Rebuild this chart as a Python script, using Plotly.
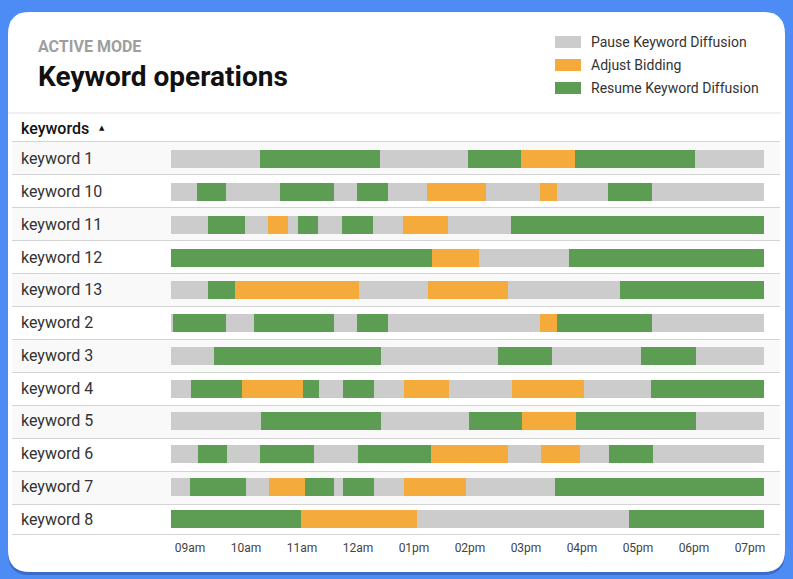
import plotly.graph_objects as go

W, H = 793, 579

keywords = ["keyword 1", "keyword 10", "keyword 11", "keyword 12", "keyword 13", "keyword 2",
            "keyword 3", "keyword 4", "keyword 5", "keyword 6", "keyword 7", "keyword 8"]
action_codes = ["P", "A", "R"]
action_names = ["Pause Keyword Diffusion", "Adjust Bidding", "Resume Keyword Diffusion"]
action_colors = ["#cccccc", "#f4ab3c", "#5d9d53"]
tick_minutes = [540, 600, 660, 720, 780, 840, 900, 960, 1020, 1080, 1140]
tick_labels = ["09am", "10am", "11am", "12am", "01pm", "02pm", "03pm", "04pm", "05pm", "06pm", "07pm"]

# segments (minutes since midnight)
seg_keyword = (["keyword 1"] * 7 + ["keyword 10"] * 13 + ["keyword 11"] * 12 + ["keyword 12"] * 4 +
               ["keyword 13"] * 7 + ["keyword 2"] * 10 + ["keyword 3"] * 7 + ["keyword 4"] * 12 +
               ["keyword 5"] * 7 + ["keyword 6"] * 12 + ["keyword 7"] * 11 + ["keyword 8"] * 4)
seg_action = [
    "P", "R", "P", "R", "A", "R", "P",
    "P", "R", "P", "R", "P", "R", "P", "A", "P", "A", "P", "R", "P",
    "P", "R", "P", "A", "P", "R", "P", "R", "P", "A", "P", "R",
    "R", "A", "P", "R",
    "P", "R", "A", "P", "A", "P", "R",
    "P", "R", "P", "R", "P", "R", "P", "A", "R", "P",
    "P", "R", "P", "R", "P", "R", "P",
    "P", "R", "A", "R", "P", "R", "P", "A", "P", "A", "P", "R",
    "P", "R", "P", "R", "A", "R", "P",
    "P", "R", "P", "R", "P", "R", "A", "P", "A", "P", "R", "P",
    "P", "R", "P", "A", "R", "P", "R", "P", "A", "P", "R",
    "R", "A", "P", "R",
]
seg_start = [
    520, 615, 744, 838, 895, 952, 1081,
    520, 547, 579, 636, 694, 719, 752, 794, 857, 915, 933, 988, 1035,
    520, 559, 599, 624, 645, 656, 677, 703, 736, 768, 816, 884,
    520, 799, 850, 946,
    520, 559, 588, 721, 795, 881, 1001,
    520, 522, 579, 609, 694, 719, 752, 915, 933, 1035,
    520, 566, 745, 870, 928, 1023, 1082,
    520, 541, 596, 661, 678, 704, 737, 769, 817, 885, 962, 1034,
    520, 616, 745, 839, 896, 954, 1082,
    520, 549, 580, 615, 673, 720, 798, 881, 916, 958, 989, 1036,
    520, 540, 600, 625, 663, 694, 704, 737, 769, 836, 931,
    520, 659, 783, 1010,
]
seg_end = [
    615, 744, 838, 895, 952, 1081, 1155,
    547, 579, 636, 694, 719, 752, 794, 857, 915, 933, 988, 1035, 1155,
    559, 599, 624, 645, 656, 677, 703, 736, 768, 816, 884, 1155,
    799, 850, 946, 1155,
    559, 588, 721, 795, 881, 1001, 1155,
    522, 579, 609, 694, 719, 752, 915, 933, 1035, 1155,
    566, 745, 870, 928, 1023, 1082, 1155,
    541, 596, 661, 678, 704, 737, 769, 817, 885, 962, 1034, 1155,
    616, 745, 839, 896, 954, 1082, 1155,
    549, 580, 615, 673, 720, 798, 881, 916, 958, 989, 1036, 1155,
    540, 600, 625, 663, 694, 704, 737, 769, 836, 931, 1155,
    659, 783, 1010, 1155,
]


def fx(px):
    return px / W


def fy(py):
    return 1 - py / H


def fmt(m):
    h, mm = divmod(int(m), 60)
    return f"{h:02d}:{mm:02d}"


fig = go.Figure()
for code, name, color in zip(action_codes, action_names, action_colors):
    idx = [i for i, a in enumerate(seg_action) if a == code]
    fig.add_trace(go.Bar(
        orientation="h",
        name=name,
        y=[seg_keyword[i] for i in idx],
        base=[seg_start[i] for i in idx],
        x=[seg_end[i] - seg_start[i] for i in idx],
        customdata=[[fmt(seg_start[i]), fmt(seg_end[i])] for i in idx],
        width=0.55,
        marker=dict(color=color, line=dict(width=0)),
        hovertemplate="%{y}<br>" + name + "<br>%{customdata[0]} - %{customdata[1]}<extra></extra>",
        showlegend=False,
    ))


def rounded(x0, y0, x1, y1, r):
    pts = [
        ("M", x0 + r, y0), ("L", x1 - r, y0), ("Q", x1, y0, x1, y0 + r),
        ("L", x1, y1 - r), ("Q", x1, y1, x1 - r, y1), ("L", x0 + r, y1),
        ("Q", x0, y1, x0, y1 - r), ("L", x0, y0 + r), ("Q", x0, y0, x0 + r, y0),
    ]
    s = ""
    for p in pts:
        cmd = p[0]
        coords = p[1:]
        parts = []
        for j in range(0, len(coords), 2):
            parts.append(f"{fx(coords[j]):.5f},{fy(coords[j + 1]):.5f}")
        s += cmd + " " + " ".join(parts) + " "
    return s + "Z"


shapes = []
# card shadow and card
shapes.append(dict(type="path", xref="paper", yref="paper", layer="below",
                   path=rounded(8, 14, 785, 575, 22), fillcolor="rgba(20,50,120,0.35)", line=dict(width=0)))
shapes.append(dict(type="path", xref="paper", yref="paper", layer="below",
                   path=rounded(8, 12, 785, 572, 22), fillcolor="#ffffff", line=dict(width=0)))

# table rows
row_tops = [141.5 + 33 * k for k in range(12)]
row_bottoms = [t + 33 for t in row_tops]
row_bottoms[-1] = 534.5
for k in range(12):
    if k % 2 == 0:
        shapes.append(dict(type="rect", xref="paper", yref="paper", layer="below",
                           x0=fx(12), x1=fx(780), y0=fy(row_bottoms[k]), y1=fy(row_tops[k]),
                           fillcolor="#f9f9f9", line=dict(width=0)))
line_color = "#d4d4d4"
shapes.append(dict(type="line", xref="paper", yref="paper", layer="below",
                   x0=fx(8), x1=fx(781), y0=fy(113), y1=fy(113), line=dict(color="#e2e2e2", width=1.2)))
for y in [row_tops[0]] + row_bottoms:
    shapes.append(dict(type="line", xref="paper", yref="paper", layer="below",
                       x0=fx(12), x1=fx(780), y0=fy(y), y1=fy(y), line=dict(color=line_color, width=1.2)))

# legend swatches
legend_y = [42, 65, 88]
for ly, color in zip(legend_y, action_colors):
    shapes.append(dict(type="rect", xref="paper", yref="paper", layer="above",
                       x0=fx(555), x1=fx(581), y0=fy(ly + 6), y1=fy(ly - 6),
                       fillcolor=color, line=dict(width=0)))

annotations = []
annotations.append(dict(xref="paper", yref="paper", x=fx(36), y=fy(47), xanchor="left", yanchor="middle",
                        text="<b>ACTIVE MODE</b>", showarrow=False,
                        font=dict(family="Roboto", size=16, color="#9e9e9e")))
annotations.append(dict(xref="paper", yref="paper", x=fx(35.5), y=fy(77), xanchor="left", yanchor="middle",
                        text="<b>Keyword operations</b>", showarrow=False,
                        font=dict(family="Roboto", size=28, color="#111111")))
for ly, name in zip(legend_y, action_names):
    annotations.append(dict(xref="paper", yref="paper", x=fx(589), y=fy(ly), xanchor="left", yanchor="middle",
                            text=name, showarrow=False,
                            font=dict(family="Roboto", size=14, color="#333333")))
annotations.append(dict(xref="paper", yref="paper", x=fx(18.5), y=fy(128), xanchor="left", yanchor="middle",
                        text="keywords", showarrow=False,
                        font=dict(family="Roboto", size=16, color="#111111", weight=500)))
annotations.append(dict(xref="paper", yref="paper", x=fx(97), y=fy(128), xanchor="left", yanchor="middle",
                        text="▲", showarrow=False,
                        font=dict(family="DejaVu Sans", size=7, color="#111111")))
for kw in keywords:
    annotations.append(dict(xref="paper", yref="y", x=fx(18.5), y=kw, xanchor="left", yanchor="middle",
                            text=kw, showarrow=False,
                            font=dict(family="Roboto", size=16, color="#333333")))

fig.update_layout(
    width=W, height=H, autosize=False,
    margin=dict(l=0, r=0, t=0, b=0, pad=0),
    paper_bgcolor="#4d8bf5",
    plot_bgcolor="rgba(0,0,0,0)",
    barmode="overlay",
    bargap=0,
    shapes=shapes,
    annotations=annotations,
    font=dict(family="Roboto"),
    xaxis=dict(
        domain=[fx(171), fx(765)],
        range=[540 - 19 * 60 / 56, 540 + (765 - 190) * 60 / 56],
        tickvals=tick_minutes, ticktext=tick_labels,
        showgrid=False, zeroline=False, showline=False, ticks="",
        ticklabelstandoff=4,
        tickfont=dict(family="Roboto", size=12, color="#444444"),
        fixedrange=True, anchor="y",
    ),
    yaxis=dict(
        domain=[fy(535.4), fy(142.6)],
        type="category", categoryorder="array", categoryarray=keywords,
        range=[11.5, -0.5],
        showticklabels=False, showgrid=False, zeroline=False, showline=False, ticks="",
        fixedrange=True,
    ),
)

fig.write_html("out.html", config={"displayModeBar": False},
               post_script="document.body.style.margin='0';")
